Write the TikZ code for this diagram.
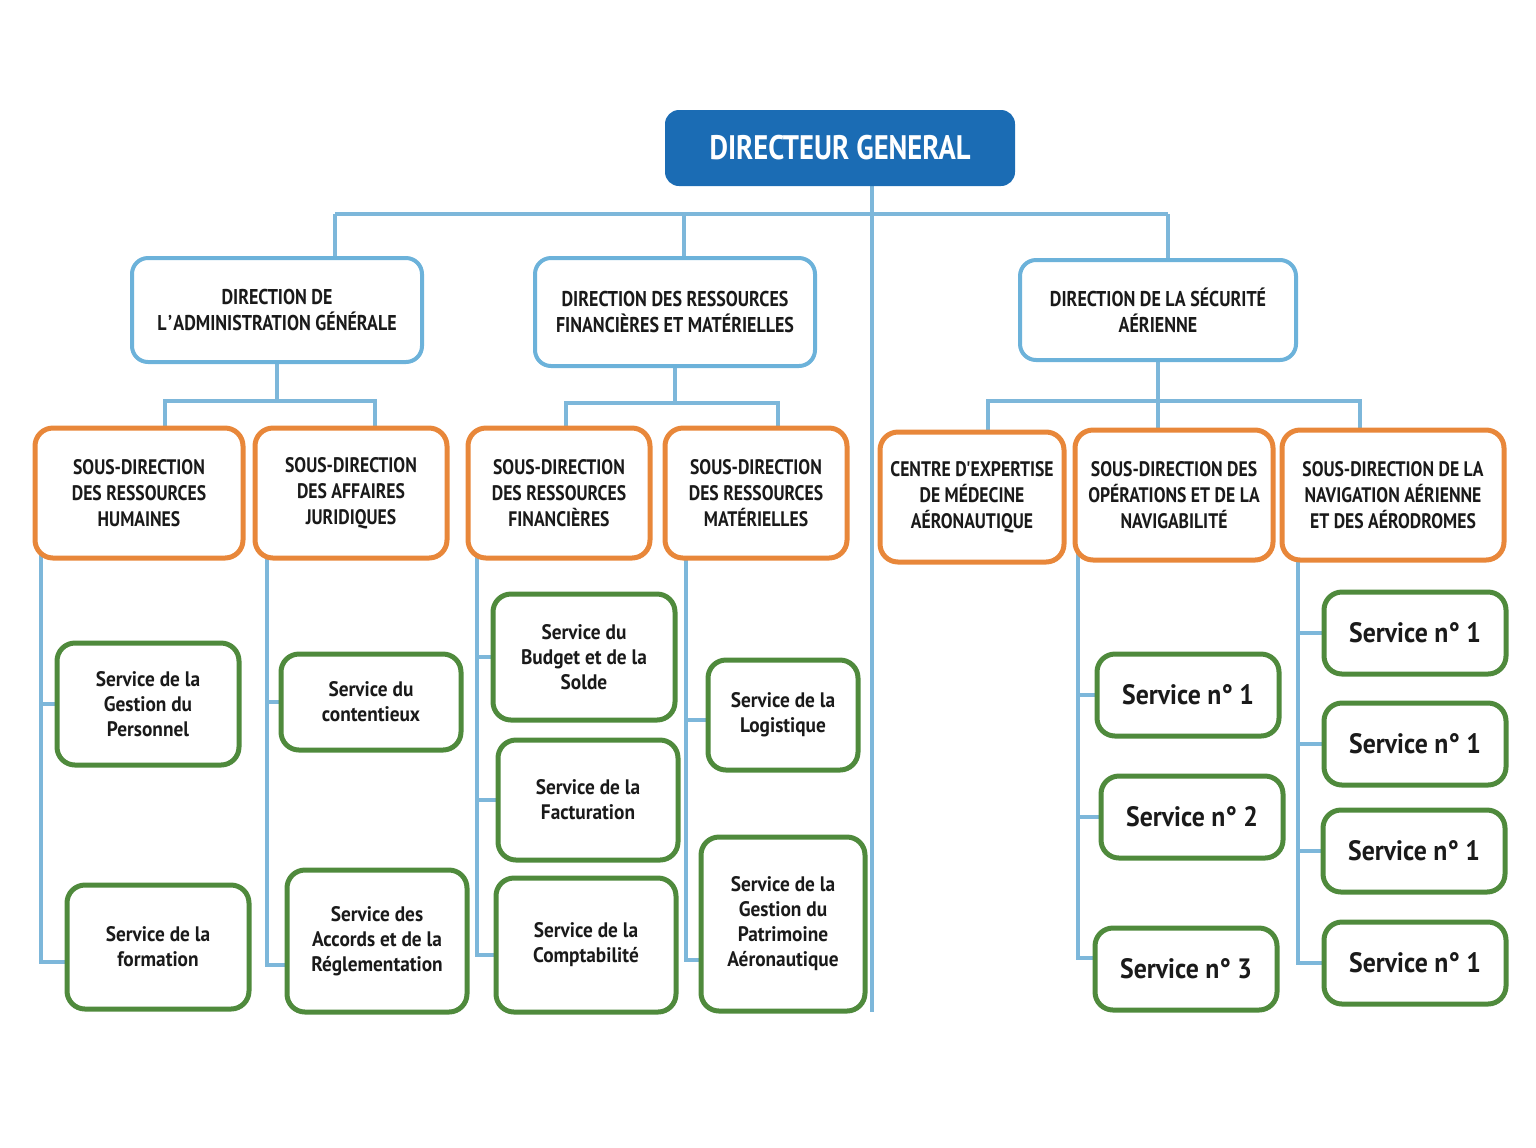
\documentclass[tikz,border=0pt]{standalone}
\usepackage{fontspec}
\usepackage{tikz}
\usetikzlibrary{backgrounds}
\usepackage{xcolor}
\newfontfamily\condf[FakeStretch=0.84]{PT Sans}
\newfontfamily\svcf[FakeStretch=0.92]{PT Sans}
\definecolor{dgblue}{HTML}{1B6CB4}
\definecolor{linkblue}{HTML}{7DB7DA}
\definecolor{dirblue}{HTML}{6CB2DA}
\definecolor{suborange}{HTML}{E8873A}
\definecolor{svcgreen}{HTML}{4F8A3C}
\definecolor{inkdark}{HTML}{1A1A1A}

\begin{document}
\begin{tikzpicture}[
  x=0.5pt, y=-0.5pt,
  dg/.style={fill=dgblue, rounded corners=7pt, text=white, inner sep=0pt,
    font=\condf\bfseries\fontsize{17}{20}\selectfont},
  dir/.style={draw=dirblue, line width=2pt, fill=white, rounded corners=8pt, align=center,
    inner sep=0pt, text=inkdark, font=\condf\bfseries\fontsize{10.7}{13}\selectfont},
  sub/.style={draw=suborange, line width=2.5pt, fill=white, rounded corners=9pt, align=center,
    inner sep=0pt, text=inkdark, minimum height=65pt, font=\condf\bfseries\fontsize{10.5}{13}\selectfont},
  svc/.style={draw=svcgreen, line width=2.5pt, fill=white, rounded corners=9pt, align=center,
    inner sep=0pt, text=inkdark, font=\svcf\bfseries\fontsize{10.5}{12.5}\selectfont},
  num/.style={svc, minimum width=91pt, minimum height=41pt, font=\svcf\bfseries\fontsize{14}{16}\selectfont},
  link/.style={draw=linkblue, line width=2pt}
]
\useasboundingbox (0,0) rectangle (1536,1147);

% direction generale
\node[dg, minimum width=175pt, minimum height=38pt] (DG) at (840,148) {DIRECTEUR GENERAL};

% directions
\node[dir, minimum width=145pt, minimum height=52pt] (DAG) at (277,310) {DIRECTION DE\\L\kern0.8pt’\kern0.6pt ADMINISTRATION GÉNÉRALE};
\node[dir, minimum width=140pt, minimum height=54pt] (DRFM) at (675,312) {DIRECTION DES RESSOURCES\\FINANCIÈRES ET MATÉRIELLES};
\node[dir, minimum width=138pt, minimum height=50pt] (DSA) at (1158,310) {DIRECTION DE LA SÉCURITÉ\\AÉRIENNE};

% sous-directions
\node[sub, minimum width=104pt] (SDRH) at (139,493) {SOUS-DIRECTION\\DES RESSOURCES\\HUMAINES};
\node[sub, minimum width=96pt] (SDAJ) at (351,493) {SOUS-DIRECTION\\DES AFFAIRES\\JURIDIQUES};
\node[sub, minimum width=91pt] (SDRF) at (559,493) {SOUS-DIRECTION\\DES RESSOURCES\\FINANCIÈRES};
\node[sub, minimum width=91pt] (SDRM) at (756,493) {SOUS-DIRECTION\\DES RESSOURCES\\MATÉRIELLES};
\node[sub, minimum width=92pt] (CEMA) at (972,497) {CENTRE D'EXPERTISE\\DE MÉDECINE\\AÉRONAUTIQUE};
\node[sub, minimum width=99pt] (SDON) at (1174,495) {SOUS-DIRECTION DES\\OPÉRATIONS ET DE LA\\NAVIGABILITÉ};
\node[sub, minimum width=111pt] (SDNA) at (1393,495) {SOUS-DIRECTION DE LA\\NAVIGATION AÉRIENNE\\ET DES AÉRODROMES};

% services
\node[svc, minimum width=91pt, minimum height=61pt] (SGP) at (148,704) {Service de la\\Gestion du\\Personnel};
\node[svc, minimum width=91pt, minimum height=62pt] (SF) at (158,947) {Service de la\\formation};
\node[svc, minimum width=90pt, minimum height=48pt] (SC) at (371,702) {Service du\\contentieux};
\node[svc, minimum width=90pt, minimum height=71pt] (SAR) at (377,941) {Service des\\Accords et de la\\Réglementation};
\node[svc, minimum width=91pt, minimum height=63pt] (SBS) at (584,657) {Service du\\Budget et de la\\Solde};
\node[svc, minimum width=90pt, minimum height=60pt] (SFA) at (588,800) {Service de la\\Facturation};
\node[svc, minimum width=90pt, minimum height=67pt] (SCO) at (586,945) {Service de la\\Comptabilité};
\node[svc, minimum width=75pt, minimum height=55pt] (SL) at (783,715) {Service de la\\Logistique};
\node[svc, minimum width=82pt, minimum height=87pt] (SGPA) at (783,924) {Service de la\\Gestion du\\Patrimoine\\Aéronautique};
\node[num] (SO1) at (1188,695) {Service n° 1};
\node[num] (SO2) at (1192,817) {Service n° 2};
\node[num] (SO3) at (1186,969) {Service n° 3};
\node[num] (SN1) at (1415,633) {Service n° 1};
\node[num] (SN2) at (1415,744) {Service n° 1};
\node[num] (SN3) at (1414,851) {Service n° 1};
\node[num] (SN4) at (1415,963) {Service n° 1};

\begin{scope}[on background layer]
% top level
\coordinate (tail) at (872,1012);
\draw[link] (DG.center -| tail) -- (tail);
\coordinate (b1) at (335,214);
\coordinate (b2) at (684,214);
\coordinate (b3) at (1168,214);
\draw[link] (b1) -- (b3);
\foreach \b/\n in {b1/DAG,b2/DRFM,b3/DSA}
  \draw[link] (\b) -- (\b |- \n.center);

% directions -> sous-directions
\coordinate (c1) at (165,401);
\coordinate (c2) at (375,401);
\draw[link] (DAG.center) -- (DAG.center |- c1);
\draw[link] (c1 |- SDRH.center) -- (c1) -- (c2) -- (c2 |- SDAJ.center);
\coordinate (d1) at (566,403);
\coordinate (d2) at (778,403);
\draw[link] (DRFM.center) -- (DRFM.center |- d1);
\draw[link] (d1 |- SDRF.center) -- (d1) -- (d2) -- (d2 |- SDRM.center);
\coordinate (e1) at (988,401);
\coordinate (e3) at (1360,401);
\draw[link] (DSA.center) -- (DSA.center |- e1);
\draw[link] (e1 |- CEMA.center) -- (e1) -- (e3) -- (e3 |- SDNA.center);
\draw[link] (DSA.center |- e1) -- (DSA.center |- SDON.center);

% sous-directions -> services
\draw[link] ([xshift=4pt]SDRH.west) coordinate (tRH) |- ([yshift=-7.5pt]SF.west);
\draw[link] (SGP.west) -- (SGP.west -| tRH);
\draw[link] ([xshift=7pt]SDAJ.west) coordinate (tAJ) |- ([yshift=-12pt]SAR.west);
\draw[link] (SC.west) -- (SC.west -| tAJ);
\draw[link] ([xshift=5.5pt]SDRF.west) coordinate (tRF) |- ([yshift=-5pt]SCO.west);
\foreach \n in {SBS,SFA}
  \draw[link] (\n.west) -- (\n.west -| tRF);
\draw[link] ([xshift=11.5pt]SDRM.west) coordinate (tRM) |- ([yshift=-18pt]SGPA.west);
\draw[link] ([yshift=-2.5pt]SL.west) -- ([yshift=-2.5pt]SL.west -| tRM);
\draw[link] ([xshift=2.5pt]SDON.west) coordinate (tON) |- ([yshift=5.5pt]SO3.west);
\foreach \n in {SO1,SO2}
  \draw[link] (\n.west) -- (\n.west -| tON);
\draw[link] ([xshift=9pt]SDNA.west) coordinate (tNA) |- (SN4.west);
\foreach \n in {SN1,SN2,SN3}
  \draw[link] (\n.west) -- (\n.west -| tNA);
\end{scope}
\end{tikzpicture}
\end{document}
